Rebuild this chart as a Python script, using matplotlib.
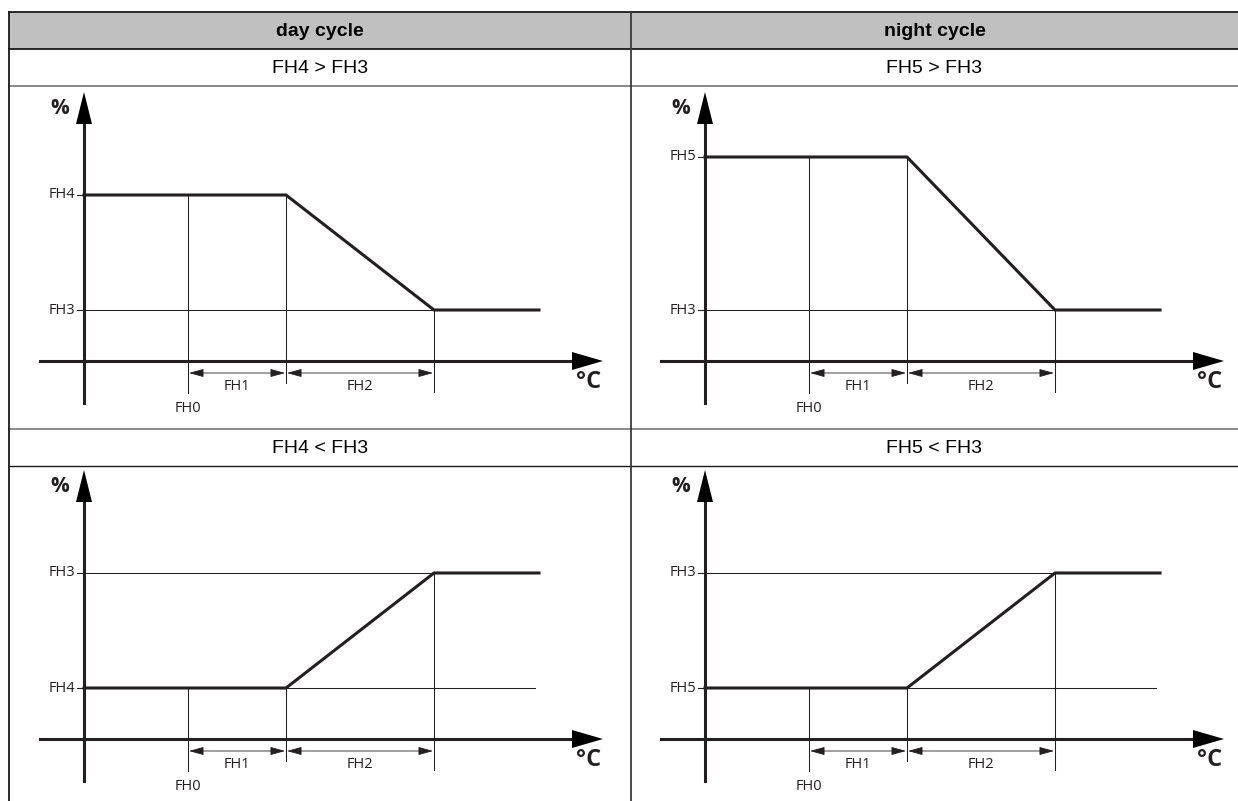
import matplotlib
matplotlib.use("Agg")
import matplotlib.pyplot as plt
from matplotlib.patches import Polygon, Rectangle

# ---------------- data ----------------
column_headers = ["day cycle", "night cycle"]
row_titles = [["FH4 > FH3", "FH5 > FH3"], ["FH4 < FH3", "FH5 < FH3"]]
# schematic breakpoints along the °C axis
x_fh0 = 104          # FH0
x_fh1_end = 202      # FH0 + FH1
x_fh2_end = 350      # FH0 + FH1 + FH2
x_curve_end = 455    # end of drawn curve
x_ref_end = 451      # end of thin reference line
# % levels: start level (left plateau) and end level (right plateau)
start_levels = [[166, 204], [51, 51]]
end_levels = [[51, 51], [166, 166]]
start_names = [["FH4", "FH5"], ["FH4", "FH5"]]
end_name = "FH3"
dim_labels = ["FH1", "FH2"]
origin_label = "FH0"

# ---------------- style ----------------
W, H = 1238, 801
INK = "#231f20"
thin_lw = 0.75
thick_lw = 2.2
lab_font = "Open Sans"
hdr_font = "Liberation Sans"
lab_size = 10.5

fig = plt.figure(figsize=(W / 100, H / 100), dpi=100)
bg = fig.add_axes([0, 0, 1, 1])
bg.set_xlim(0, W)
bg.set_ylim(H, 0)
bg.axis("off")

# table geometry (pixels)
tbl_left, tbl_right = 9, W
col_div = 631
y_top, y_hdr, y_r1, y_r2a, y_r2b = 12, 49, 86, 429, 466

bg.add_patch(Rectangle((tbl_left, y_top), tbl_right - tbl_left, y_hdr - y_top,
                       facecolor="#c0c0c0", edgecolor="none"))
bg.plot([tbl_left, tbl_right], [y_top, y_top], color="#1a1a1a", lw=1.3)
bg.plot([tbl_left, tbl_right], [y_hdr, y_hdr], color="#1a1a1a", lw=1.3)
bg.plot([tbl_left, tbl_right], [y_r1, y_r1], color="#808080", lw=1.3)
bg.plot([tbl_left, tbl_right], [y_r2a, y_r2a], color="#808080", lw=1.3)
bg.plot([tbl_left, tbl_right], [y_r2b, y_r2b], color="#1a1a1a", lw=1.0)
bg.plot([tbl_left, tbl_left], [y_top, H], color="#1a1a1a", lw=1.3)
bg.plot([col_div, col_div], [y_top, H], color="#3a3a3a", lw=1.3)

col_bounds = [(tbl_left, col_div), (col_div, tbl_right)]
for ci, (a, b) in enumerate(col_bounds):
    bg.text((a + b) / 2, (y_top + y_hdr) / 2 + 1, column_headers[ci], ha="center", va="center",
            fontsize=14, fontweight="bold", family=hdr_font, color="black")
    bg.text((a + b) / 2, (y_hdr + y_r1) / 2 + 1, row_titles[0][ci], ha="center", va="center",
            fontsize=14, family=hdr_font, color="black")
    bg.text((a + b) / 2, (y_r2a + y_r2b) / 2 + 1, row_titles[1][ci], ha="center", va="center",
            fontsize=14, family=hdr_font, color="black")

# panel origins (pixel position of axis crossing)
origins_x = [84, 705]
origins_y = [361, 739]
cells_y = [(y_r1, y_r2a), (y_r2b, H)]


def draw_panel(ax, s, e, sname):
    # thin reference lines
    ax.plot([0, x_fh2_end], [e, e], color=INK, lw=thin_lw)
    if s < e:
        ax.plot([x_fh1_end, x_ref_end], [s, s], color=INK, lw=thin_lw)
    for xv, yv, ybot in [(x_fh0, s, -32), (x_fh1_end, s, -22), (x_fh2_end, e, -31)]:
        ax.plot([xv, xv], [yv, ybot], color=INK, lw=thin_lw)
    # curve
    ax.plot([0, x_fh1_end, x_fh2_end, x_curve_end], [s, s, e, e], color=INK,
            lw=thick_lw, solid_joinstyle="miter", zorder=5)
    # axes
    ax.plot([-44, 492], [0, 0], color=INK, lw=thick_lw, zorder=6)
    ax.plot([0, 0], [-42, 240], color=INK, lw=thick_lw, zorder=6)
    ax.add_patch(Polygon([[0, 269], [-8, 237], [8, 237]], closed=True,
                         facecolor="black", edgecolor="none", zorder=7))
    ax.add_patch(Polygon([[519, 0], [488, 9], [488, -9]], closed=True,
                         facecolor="black", edgecolor="none", zorder=7))
    # ticks + labels
    for lvl, name in [(s, sname), (e, end_name)]:
        ax.plot([-7, 0], [lvl, lvl], color=INK, lw=0.8)
        ax.text(-9, lvl, name, ha="right", va="center", fontsize=lab_size,
                family=lab_font, color=INK)
    # dimension arrows
    for (a, b), lab in zip([(x_fh0, x_fh1_end), (x_fh1_end, x_fh2_end)], dim_labels):
        ax.annotate("", xy=(b - 1, -12), xytext=(a + 1, -12),
                    arrowprops=dict(arrowstyle="<|-|>,head_length=0.9,head_width=0.25",
                                    lw=0.6, color=INK, shrinkA=0, shrinkB=0, mutation_scale=10))
        ax.text((a + b) / 2, -26, lab, ha="center", va="center", fontsize=lab_size,
                family=lab_font, color=INK)
    ax.text(x_fh0, -47, origin_label, ha="center", va="center", fontsize=lab_size,
            family=lab_font, color=INK)
    ax.text(-24, 252, "%", ha="center", va="center", fontsize=15, fontweight="bold",
            family=lab_font, color=INK)
    ax.text(505, -21, "°C", ha="center", va="center", fontsize=17, fontweight="bold",
            family=lab_font, color=INK)


for ri in range(2):
    for ci in range(2):
        cx0, cx1 = col_bounds[ci]
        cy0, cy1 = cells_y[ri]
        ox, oy = origins_x[ci], origins_y[ri]
        ax = fig.add_axes([cx0 / W, 1 - cy1 / H, (cx1 - cx0) / W, (cy1 - cy0) / H])
        ax.set_xlim(cx0 - ox, cx1 - ox)
        ax.set_ylim(oy - cy1, oy - cy0)
        ax.axis("off")
        ax.patch.set_alpha(0)
        draw_panel(ax, start_levels[ri][ci], end_levels[ri][ci], start_names[ri][ci])

fig.savefig("out.png", dpi=100)
